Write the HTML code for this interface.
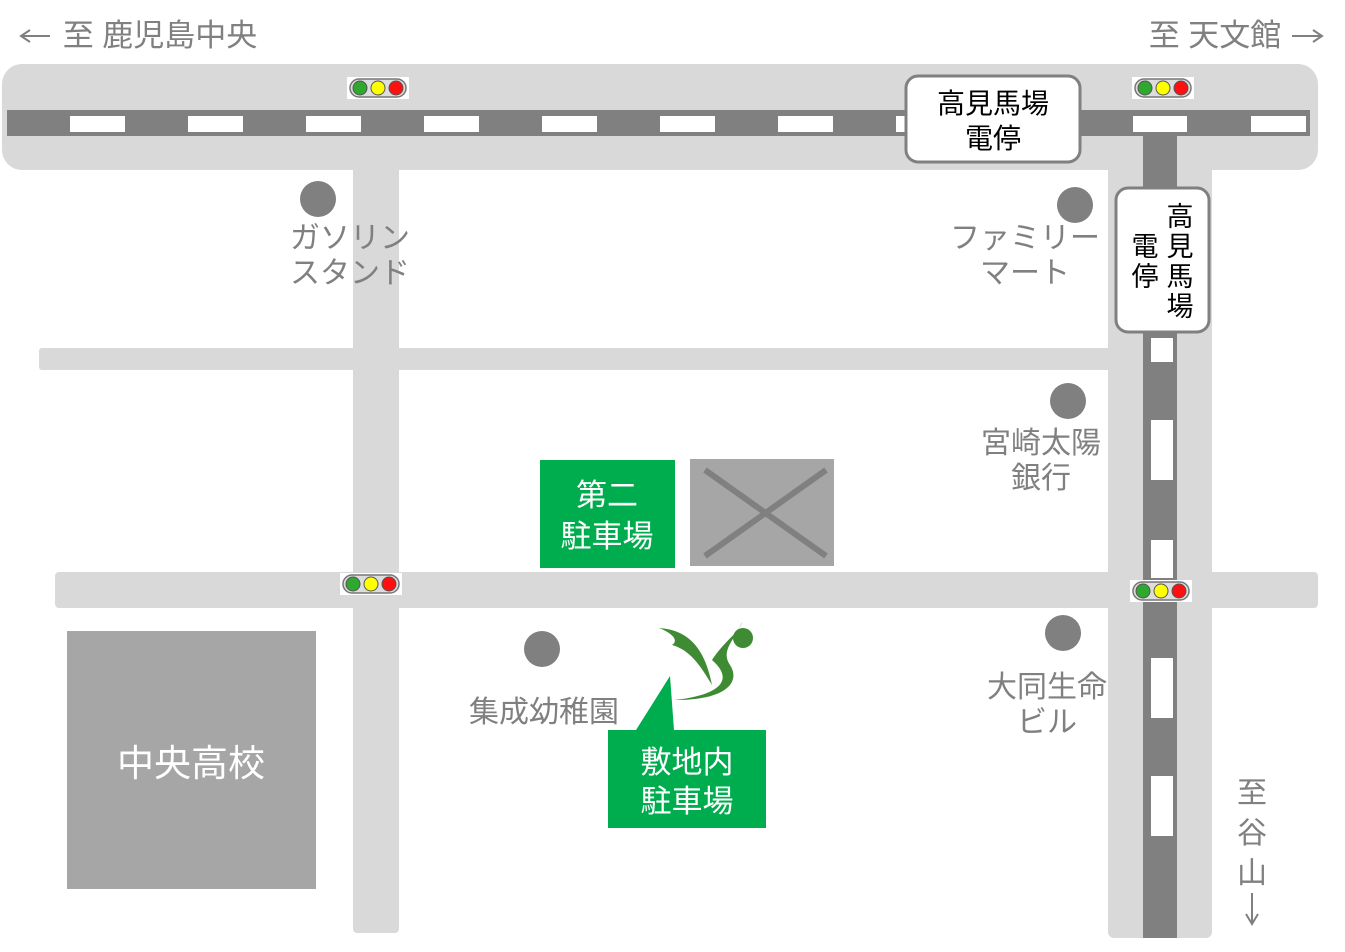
<!DOCTYPE html>
<html><head><meta charset="utf-8"><style>
body{margin:0;background:#fff;}
svg{display:block;font-family:"Liberation Sans","Noto Sans CJK JP",sans-serif;}
</style></head><body>
<svg width="1345" height="952" viewBox="0 0 1345 952">
<defs>
<g id="tl">
<rect x="0" y="0" width="62" height="22" fill="#fff"/>
<rect x="3" y="2" width="56" height="18" rx="9" fill="#ddd" stroke="#777" stroke-width="1.5"/>
<circle cx="13" cy="11" r="7" fill="#2ea82e" stroke="#555"/>
<circle cx="31" cy="11" r="7" fill="#ffff00" stroke="#555"/>
<circle cx="49" cy="11" r="7" fill="#ff1010" stroke="#555"/>
</g>
</defs>
<!-- roads light -->
<rect x="2" y="64" width="1316" height="106" rx="20" fill="#d9d9d9"/>
<rect x="353" y="160" width="46" height="773" rx="4" fill="#d9d9d9"/>
<rect x="1108" y="160" width="104" height="778" rx="6" fill="#d9d9d9"/>
<rect x="39" y="348" width="1080" height="22" rx="3" fill="#d9d9d9"/>
<rect x="55" y="572" width="1263" height="36" rx="4" fill="#d9d9d9"/>
<!-- dark lanes -->
<rect x="7" y="110" width="1303" height="26" fill="#808080"/>
<rect x="1143" y="130" width="34" height="808" fill="#808080"/>
<g fill="#fff">
<rect x="70" y="116" width="55" height="16"/><rect x="188" y="116" width="55" height="16"/>
<rect x="306" y="116" width="55" height="16"/><rect x="424" y="116" width="55" height="16"/>
<rect x="542" y="116" width="55" height="16"/><rect x="660" y="116" width="55" height="16"/>
<rect x="778" y="116" width="55" height="16"/><rect x="896" y="116" width="20" height="16"/>
<rect x="1133" y="116" width="54" height="16"/><rect x="1251" y="116" width="55" height="16"/>
<rect x="1151" y="338" width="22" height="24"/><rect x="1151" y="420" width="22" height="60"/>
<rect x="1151" y="540" width="22" height="38"/><rect x="1151" y="658" width="22" height="60"/>
<rect x="1151" y="776" width="22" height="60"/>
</g>
<!-- station boxes -->
<rect x="906" y="76" width="174" height="86" rx="12" fill="#fff" stroke="#808080" stroke-width="3"/>
<text x="993" y="113" font-size="28" text-anchor="middle" fill="#000">高見馬場</text>
<text x="993" y="148" font-size="28" text-anchor="middle" fill="#000">電停</text>
<rect x="1116" y="188" width="93" height="144" rx="12" fill="#fff" stroke="#808080" stroke-width="3"/>
<g font-size="27" fill="#000" text-anchor="middle">
<text x="1180" y="226">高</text><text x="1180" y="256">見</text><text x="1180" y="286">馬</text><text x="1180" y="316">場</text>
<text x="1145" y="256">電</text><text x="1145" y="286">停</text>
</g>
<use href="#tl" x="347" y="77"/>
<use href="#tl" x="1132" y="77"/>
<use href="#tl" x="340" y="573"/>
<use href="#tl" x="1130" y="580"/>
<!-- circles -->
<g fill="#808080">
<circle cx="318" cy="199" r="18"/><circle cx="1075" cy="205" r="18"/>
<circle cx="1068" cy="401" r="18"/><circle cx="542" cy="649" r="18"/>
<circle cx="1063" cy="633" r="18"/>
</g>
<g fill="#808080" font-size="30" text-anchor="middle">
<text x="350" y="248">ガソリン</text><text x="350" y="283">スタンド</text>
<text x="1025" y="248">ファミリー</text><text x="1025" y="283">マート</text>
<text x="1041" y="453">宮崎太陽</text><text x="1041" y="488">銀行</text>
<text x="544" y="722">集成幼稚園</text>
<text x="1047" y="697">大同生命</text><text x="1047" y="732">ビル</text>
<text x="160" y="46" font-size="31">至 鹿児島中央</text>
<text x="1215" y="46" font-size="31">至 天文館</text>
<text x="1252" y="803">至</text><text x="1252" y="843">谷</text><text x="1252" y="883">山</text>
</g>
<g stroke="#808080" stroke-width="2" fill="none">
<line x1="22" y1="36" x2="50" y2="36"/><path d="M30 30 L21 36 L30 42"/>
<line x1="1292" y1="36" x2="1322" y2="36"/><path d="M1313 30 L1322 36 L1313 42"/>
<line x1="1252" y1="893" x2="1252" y2="922"/><path d="M1246 914 L1252 924 L1258 914"/>
</g>
<!-- parking -->
<rect x="540" y="460" width="135" height="108" fill="#00ad4e"/>
<text x="607" y="506" font-size="31" fill="#fff" text-anchor="middle">第二</text>
<text x="607" y="547" font-size="31" fill="#fff" text-anchor="middle">駐車場</text>
<rect x="690" y="459" width="144" height="107" fill="#a6a6a6"/>
<line x1="705" y1="470" x2="826" y2="556" stroke="#808080" stroke-width="6"/>
<line x1="826" y1="470" x2="705" y2="556" stroke="#808080" stroke-width="6"/>
<path d="M608 730 L636 730 L670 676 L674 730 L766 730 L766 828 L608 828 Z" fill="#00ad4e"/>
<text x="687" y="773" font-size="31" fill="#fff" text-anchor="middle">敷地内</text>
<text x="687" y="812" font-size="31" fill="#fff" text-anchor="middle">駐車場</text>
<!-- logo -->
<g fill="#3e8b34">
<path d="M659 628 C690 630 705 650 712 685 C700 665 690 650 672 645 C680 640 670 632 659 628 Z"/>
<path d="M712 660 C725 640 740 632 742 622 C735 640 720 650 730 665 C740 680 730 700 675 700 C720 695 735 680 712 660 Z"/>
<circle cx="743" cy="638" r="10"/>
</g>
<!-- school -->
<rect x="67" y="631" width="249" height="258" fill="#a6a6a6"/>
<text x="191" y="776" font-size="37" fill="#fff" text-anchor="middle">中央高校</text>
</svg>
</body></html>
